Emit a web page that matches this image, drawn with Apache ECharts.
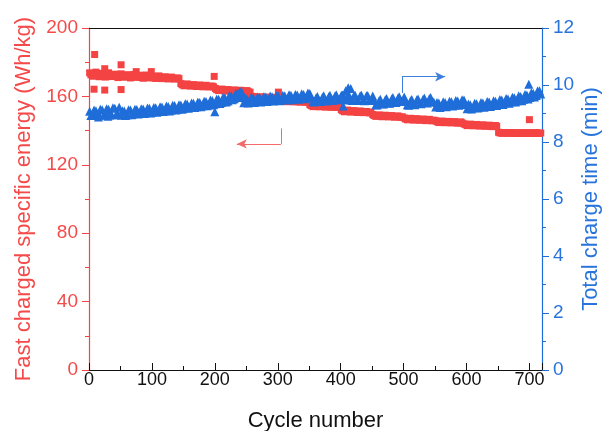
<!DOCTYPE html>
<html>
<head>
<meta charset="utf-8">
<script src="https://cdn.jsdelivr.net/npm/echarts@6/dist/echarts.min.js"></script>
<style>
  html, body { margin: 0; padding: 0; background: #ffffff; }
  #chart { width: 602px; height: 431px; }
</style>
</head>
<body>
<div id="chart"></div>
<script>
// Cycle numbers of the first measurement set
const cyclesA = [
  1, 6, 11, 16, 21, 26, 31, 36, 41, 46, 51, 56, 61, 66, 71, 76, 81, 86, 91, 96,
  101, 106, 111, 116, 121, 126, 131, 136, 141, 146, 151, 156, 161, 166, 171, 176, 181, 186, 191, 196,
  201, 206, 211, 216, 221, 226, 231, 236, 241, 246, 251, 256, 261, 266, 271, 276, 281, 286, 291, 296,
  301, 306, 311, 316, 321, 326, 331, 336, 341, 346, 351, 356, 361, 366, 371, 376, 381, 386, 391, 396,
  401, 406, 411, 416, 421, 426, 431, 436, 441, 446, 451, 456, 461, 466, 471, 476, 481, 486, 491, 496,
  501, 506, 511, 516, 521, 526, 531, 536, 541, 546, 551, 556, 561, 566, 571, 576, 581, 586, 591, 596,
  601, 606, 611, 616, 621, 626, 631, 636, 641, 646, 651, 656, 661, 666, 671, 676, 681, 686, 691, 696,
  701, 706, 711, 716
];

// Cycle numbers of the second, interleaved measurement set
const cyclesB = [
  3, 8, 13, 18, 23, 28, 33, 38, 43, 48, 53, 58, 63, 68, 73, 78, 83, 88, 93, 98,
  103, 108, 113, 118, 123, 128, 133, 138, 143, 148, 153, 158, 163, 168, 173, 178, 183, 188, 193, 198,
  203, 208, 213, 218, 223, 228, 233, 238, 243, 248, 253, 258, 263, 268, 273, 278, 283, 288, 293, 298,
  303, 308, 313, 318, 323, 328, 333, 338, 343, 348, 353, 358, 363, 368, 373, 378, 383, 388, 393, 398,
  403, 408, 413, 418, 423, 428, 433, 438, 443, 448, 453, 458, 463, 468, 473, 478, 483, 488, 493, 498,
  503, 508, 513, 518, 523, 528, 533, 538, 543, 548, 553, 558, 563, 568, 573, 578, 583, 588, 593, 598,
  603, 608, 613, 618, 623, 628, 633, 638, 643, 648, 653, 658, 663, 668, 673, 678, 683, 688, 693, 698,
  703, 708, 713, 718
];

// Fast charged specific energy (Wh/kg) at cyclesA
const energyA = [
  173.8, 171.8, 174.2, 171.5, 173.5, 171.3, 173.8, 171.6, 173.0, 171.0,
  173.2, 171.2, 172.7, 170.8, 172.8, 171.1, 172.4, 170.6, 172.5, 170.8,
  171.9, 170.5, 172.0, 170.4, 171.5, 170.2, 171.3, 170.1, 170.8,
  167.5, 166.2, 167.3, 166.0, 166.9, 165.8, 166.7, 165.6, 166.5, 165.5, 166.0,
  164.6, 163.4, 164.3, 163.1, 164.0, 162.9, 163.8, 162.8, 163.6, 162.6, 163.4, 162.5,
  160.0, 158.9, 159.8, 158.8, 159.6, 158.7, 159.5, 158.6,
  158.2, 157.0, 158.0, 156.9, 157.8, 156.8, 157.6, 156.6, 157.4, 156.5,
  155.2, 154.0, 155.0, 153.9, 154.8, 153.7, 154.6, 153.6, 154.4, 153.5,
  152.2, 151.0, 152.0, 150.8, 151.7, 150.6, 151.5, 150.5, 151.2, 150.3,
  149.4, 148.3, 149.2, 148.1, 149.0, 148.0, 148.8, 147.8, 148.6, 147.7,
  147.4, 146.3, 147.2, 146.1, 147.0, 146.0, 146.8, 145.8, 146.6, 145.7,
  145.8, 144.7, 145.6, 144.6, 145.4, 144.5, 145.3, 144.3, 145.1,
  144.0, 142.9, 143.8, 142.8, 143.6, 142.6, 143.4, 142.5, 143.2, 142.3, 143.0,
  139.0, 138.4, 138.9, 138.4, 138.9, 138.3, 138.8, 138.3, 138.8, 138.3, 138.8, 138.3, 138.8, 138.4
];

// Fast charged specific energy (Wh/kg) at cyclesB
const energyB = [
  172.6, 173.2, 172.3, 173.0, 172.1, 172.8, 172.4, 172.6, 171.9, 172.3,
  171.8, 172.2, 171.6, 171.9, 171.7, 171.6, 171.2, 171.8, 171.3, 171.4,
  170.9, 171.3, 170.8, 171.1, 170.6, 170.9, 170.5, 170.6, 170.4,
  166.8, 166.9, 166.5, 166.6, 166.2, 166.4, 166.0, 166.2, 165.8, 166.0, 165.6,
  163.9, 164.0, 163.6, 163.7, 163.3, 163.5, 163.1, 163.3, 162.9, 163.1, 162.8,
  159.4, 159.3, 159.2, 159.3, 159.1, 159.2, 159.0, 159.1, 158.9,
  157.5, 157.6, 157.3, 157.4, 157.1, 157.2, 156.9, 157.0, 156.8, 156.9,
  154.6, 154.7, 154.3, 154.4, 154.1, 154.2, 153.9, 154.0, 153.8, 153.9,
  151.6, 151.7, 151.3, 151.4, 151.1, 151.2, 150.9, 151.0, 150.7, 150.8,
  148.8, 148.9, 148.6, 148.7, 148.4, 148.5, 148.2, 148.3, 148.0, 148.1,
  146.8, 146.9, 146.6, 146.7, 146.4, 146.5, 146.2, 146.3, 146.0, 146.1,
  145.2, 145.3, 145.0, 145.1, 144.8, 144.9, 144.7, 144.8, 144.5,
  143.5, 143.4, 143.2, 143.3, 143.0, 143.1, 142.8, 142.9, 142.6, 142.7, 142.5,
  138.7, 138.6, 138.7, 138.6, 138.6, 138.5, 138.6, 138.5, 138.6, 138.5, 138.5, 138.6, 138.5, 138.6
];

// Total charge time (min) at cyclesA
const timeA = [
  9.08, 8.95, 9.10, 8.95, 9.13, 8.96, 9.15, 8.96, 9.18, 8.97,
  8.94, 9.09, 8.96, 9.12, 8.99, 9.14, 9.01, 9.16, 9.03, 9.18,
  9.05, 9.20, 9.07, 9.23, 9.10, 9.25, 9.12, 9.28, 9.15, 9.30,
  9.18, 9.33, 9.21, 9.36, 9.24, 9.39, 9.27, 9.42, 9.30, 9.46,
  9.34, 9.50, 9.39, 9.55, 9.44, 9.62, 9.52, 9.71, 9.60,
  9.38, 9.53, 9.40, 9.55, 9.42, 9.56, 9.43, 9.58, 9.45, 9.59, 9.47,
  9.61, 9.48, 9.62, 9.50, 9.64, 9.51, 9.65, 9.53, 9.67, 9.55, 9.70,
  9.42, 9.55, 9.44, 9.57, 9.46, 9.59, 9.48, 9.61, 9.50, 9.64,
  9.50, 9.63, 9.49, 9.62, 9.49, 9.62, 9.48, 9.62, 9.48, 9.61,
  9.31, 9.45, 9.34, 9.48, 9.37, 9.51, 9.40, 9.54, 9.43, 9.58,
  9.31, 9.45, 9.33, 9.48, 9.36, 9.50, 9.39, 9.53, 9.42,
  9.23, 9.37, 9.25, 9.39, 9.28, 9.41, 9.30, 9.44, 9.33, 9.47,
  9.17, 9.31, 9.20, 9.34, 9.23, 9.37, 9.26, 9.40, 9.29, 9.43,
  9.33, 9.47, 9.37, 9.51, 9.41, 9.55, 9.45, 9.60, 9.50, 9.65,
  9.56, 9.71, 9.63, 9.80
];

// Total charge time (min) at cyclesB
const timeB = [
  8.93, 9.12, 8.94, 9.15, 8.94, 9.17, 8.95, 9.20, 8.96, 9.22,
  9.10, 8.93, 9.13, 8.96, 9.15, 8.98, 9.17, 9.00, 9.19, 9.02,
  9.21, 9.04, 9.24, 9.07, 9.26, 9.09, 9.29, 9.12, 9.31, 9.15,
  9.34, 9.18, 9.37, 9.21, 9.40, 9.24, 9.43, 9.27, 9.47, 9.31,
  9.51, 9.35, 9.56, 9.40, 9.62, 9.48, 9.70, 9.56, 9.74,
  9.55, 9.37, 9.57, 9.39, 9.58, 9.40, 9.60, 9.42, 9.61, 9.44, 9.63,
  9.45, 9.64, 9.47, 9.66, 9.48, 9.67, 9.50, 9.69, 9.52, 9.72,
  9.58, 9.40, 9.60, 9.42, 9.62, 9.44, 9.64, 9.46, 9.66, 9.48,
  9.65, 9.47, 9.65, 9.46, 9.64, 9.46, 9.64, 9.45, 9.63, 9.46,
  9.47, 9.30, 9.50, 9.33, 9.53, 9.36, 9.56, 9.39, 9.59, 9.42,
  9.47, 9.29, 9.49, 9.31, 9.51, 9.34, 9.54, 9.37, 9.56, 9.40,
  9.39, 9.21, 9.41, 9.24, 9.43, 9.26, 9.46, 9.29, 9.48, 9.32,
  9.33, 9.16, 9.36, 9.19, 9.39, 9.22, 9.42, 9.25, 9.45, 9.28,
  9.49, 9.32, 9.53, 9.36, 9.57, 9.40, 9.62, 9.45, 9.67, 9.51,
  9.73, 9.58, 9.80, 9.68
];

// Check-up cycles that sit off the main trend: [cycle, value]
const energyExtra = [
  [8, 164.2], [9, 184.5], [25, 163.7], [25, 176.2], [51, 164.0], [51, 178.5],
  [75, 174.5], [99, 174.5], [199, 171.7], [301, 162.5], [700, 146.4]
];
const timeExtra = [
  [15, 8.88], [30, 8.90], [200, 9.06], [240, 9.78], [404, 9.26],
  [408, 9.80], [412, 9.90], [416, 9.88], [699, 10.03]
];

// Axis ranges and tick steps: [min, max, interval]
const xRange = [0, 720, 100];
const energyRange = [0, 200, 40];
const timeRange = [0, 12, 2];

const RED = '#f44343';
const RED_TEXT = '#f54a4a';
const BLUE = '#1f6dd8';
const BLUE_TEXT = '#2874dc';
const FONT = '"Liberation Sans", Arial, sans-serif';

const pairs = (xs, ys) => xs.map((x, i) => [x, ys[i]]);
const energyData = pairs(cyclesA, energyA).concat(pairs(cyclesB, energyB), energyExtra);
const timeData = pairs(cyclesA, timeA).concat(pairs(cyclesB, timeB), timeExtra);

const chart = echarts.init(document.getElementById('chart'), null, { renderer: 'canvas' });

chart.setOption({
  animation: false,
  backgroundColor: '#ffffff',
  grid: { left: 89, right: 60, top: 28, bottom: 61, containLabel: false, outerBoundsMode: 'none' },
  xAxis: [
    {
      type: 'value',
      min: xRange[0], max: xRange[1], interval: xRange[2],
      name: 'Cycle number',
      nameLocation: 'middle',
      nameGap: 40,
      nameTextStyle: { fontFamily: FONT, fontSize: 22, color: '#111' },
      axisLine: { show: true, onZero: false, lineStyle: { color: '#111', width: 1.2 } },
      axisTick: { show: true, inside: true, length: 7, lineStyle: { color: '#111' } },
      minorTick: { show: true, splitNumber: 2, length: 4, lineStyle: { color: '#111' } },
      axisLabel: { fontFamily: FONT, fontSize: 18, color: '#111', margin: 1, showMaxLabel: false },
      splitLine: { show: false }
    },
    {
      type: 'value',
      position: 'top',
      min: xRange[0], max: xRange[1],
      axisLine: { show: true, onZero: false, lineStyle: { color: '#111', width: 1.2 } },
      axisTick: { show: false },
      axisLabel: { show: false },
      splitLine: { show: false }
    }
  ],
  yAxis: [
    {
      type: 'value',
      position: 'left',
      min: energyRange[0], max: energyRange[1], interval: energyRange[2],
      name: 'Fast charged specific energy (Wh/kg)',
      nameLocation: 'middle',
      nameGap: 54,
      nameTextStyle: { fontFamily: FONT, fontSize: 22, color: RED_TEXT },
      axisLine: { show: true, onZero: false, lineStyle: { color: RED, width: 1.2 } },
      axisTick: { show: true, inside: false, length: 7, lineStyle: { color: RED } },
      minorTick: { show: true, splitNumber: 2, length: 4, lineStyle: { color: RED } },
      axisLabel: { fontFamily: FONT, fontSize: 19, color: RED_TEXT, margin: 11 },
      splitLine: { show: false }
    },
    {
      type: 'value',
      position: 'right',
      min: timeRange[0], max: timeRange[1], interval: timeRange[2],
      name: 'Total charge time (min)',
      nameLocation: 'middle',
      nameGap: 38,
      nameRotate: 90,
      nameMoveOverlap: false,
      nameTextStyle: { fontFamily: FONT, fontSize: 22, color: BLUE_TEXT },
      axisLine: { show: true, onZero: false, lineStyle: { color: BLUE, width: 1.2 } },
      axisTick: { show: true, inside: false, length: 7, lineStyle: { color: BLUE } },
      minorTick: { show: true, splitNumber: 2, length: 4, lineStyle: { color: BLUE } },
      axisLabel: { fontFamily: FONT, fontSize: 19, color: BLUE_TEXT, margin: 11 },
      splitLine: { show: false }
    }
  ],
  series: [
    {
      name: 'Fast charged specific energy',
      type: 'scatter',
      xAxisIndex: 0,
      yAxisIndex: 0,
      symbol: 'rect',
      symbolSize: 7,
      itemStyle: { color: RED, opacity: 1 },
      data: energyData,
      markLine: {
        silent: true,
        animation: false,
        label: { show: false },
        lineStyle: { color: '#f26a6a', width: 1, type: 'solid' },
        symbolSize: [7, 10],
        data: [
          [{ coord: [305, 141.3], symbol: 'none' }, { coord: [305, 132.2], symbol: 'none' }],
          [{ coord: [305, 132.2], symbol: 'none' }, { coord: [235, 132.2], symbol: 'arrow' }]
        ]
      }
    },
    {
      name: 'Total charge time',
      type: 'scatter',
      xAxisIndex: 0,
      yAxisIndex: 1,
      symbol: 'triangle',
      symbolSize: 9,
      itemStyle: { color: BLUE, opacity: 1 },
      data: timeData,
      markLine: {
        silent: true,
        animation: false,
        label: { show: false },
        lineStyle: { color: '#3c7fdc', width: 1, type: 'solid' },
        symbolSize: [7, 10],
        data: [
          [{ coord: [497.5, 9.72], symbol: 'none' }, { coord: [497.5, 10.29], symbol: 'none' }],
          [{ coord: [497.5, 10.29], symbol: 'none' }, { coord: [566, 10.29], symbol: 'arrow' }]
        ]
      }
    }
  ]
});
</script>
</body>
</html>
